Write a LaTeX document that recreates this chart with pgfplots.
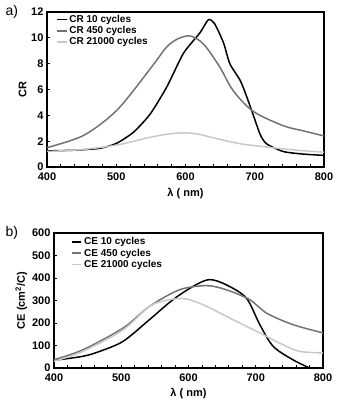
\documentclass[border=0pt]{standalone}
\usepackage{pgfplots}
\pgfplotsset{compat=1.18}
\usepackage{fontspec}
\setmainfont{Liberation Sans}
\setsansfont{Liberation Sans}
\definecolor{cmid}{RGB}{115,115,115}
\definecolor{clight}{RGB}{200,200,200}
\pgfplotsset{
  common/.style={
    scale only axis,
    xmin=400, xmax=800,
    xtick={400,500,...,800},
    minor xtick={400,420,...,800},
    tick align=inside,
    xtick pos=bottom, ytick pos=left,
    major tick length=3pt, minor tick length=3pt,
    every tick/.style={black, line width=0.8pt},
    axis line style={line width=1.2pt},
    /pgf/number format/assume math mode=true,
    /pgf/number format/1000 sep={},
    xticklabel={\pgfmathprintnumber{\tick}},
    yticklabel={\pgfmathprintnumber{\tick}},
    tick label style={font=\fontsize{11}{12}\selectfont\bfseries},
    xticklabel style={yshift=-2.5pt},
    label style={font=\fontsize{11}{12}\selectfont\bfseries},
    legend style={draw=none, fill=none, font=\fontsize{10}{11}\selectfont\bfseries,
      row sep=-1.5pt, inner sep=1pt},
    legend cell align=left,
    legend image post style={xscale=0.55},
    xlabel={λ ( nm)},
  }
}
\begin{document}
\begin{tikzpicture}
\useasboundingbox (0,0) rectangle (338pt,407pt);
\begin{axis}[common,
  at={(47pt,240pt)}, anchor=south west,
  width=277pt, height=155pt,
  ymin=0, ymax=12, ytick={0,2,...,12},
  ylabel={CR}, ylabel style={yshift=-2pt},
  xlabel style={yshift=-1pt},
  legend style={at={(0.03,1.0)}, anchor=north west},
]
\addplot[black, line width=1.5pt, smooth, tension=0.4] coordinates {
(400,1.25) (440,1.3) (477,1.45) (501,1.85) (525,2.7) (549,4.1) (573,6.2) (597,8.8) (621,10.4) (633,11.4) (642,11.1) (655,9.6) (664,8.0) (679,6.7) (688,5.5) (698,4.0) (708,2.5) (717,1.8) (741,1.2) (770,1.0) (800,0.9)};
\addlegendentry{CR 10 cycles}
\addplot[cmid, line width=1.5pt, smooth] coordinates {
(400,1.5) (453,2.45) (501,4.4) (549,7.6) (573,9.3) (590,9.95) (606,10.15) (620,9.8) (631,9.2) (650,7.7) (669,5.9) (698,4.3) (741,3.2) (770,2.8) (800,2.4)};
\addlegendentry{CR 450 cycles}
\addplot[clight, line width=1.5pt, smooth] coordinates {
(400,1.2) (450,1.35) (501,1.7) (549,2.3) (583,2.6) (612,2.6) (645,2.2) (679,1.8) (717,1.55) (760,1.3) (800,1.15)};
\addlegendentry{CR 21000 cycles}
\end{axis}
\node[font=\fontsize{14}{16}\selectfont, anchor=north west] at (2pt,405pt) {a)};
\begin{axis}[common,
  at={(54pt,39pt)}, anchor=south west,
  width=269pt, height=135pt,
  ymin=0, ymax=600, ytick={0,100,...,600},
  ylabel={CE (cm\textsuperscript{2}/C)}, ylabel style={yshift=-2pt},
  xlabel style={yshift=0pt},
  legend style={at={(0.06,0.99)}, anchor=north west},
]
\addplot[black, line width=1.5pt, smooth] coordinates {
(400,34) (443,52) (468,74) (503,119) (542,215) (577,304) (607,363) (631,393) (656,370) (686,311) (706,193) (726,96) (755,37) (780,0)};
\addlegendentry{CE 10 cycles}
\addplot[cmid, line width=1.5pt, smooth] coordinates {
(400,37) (443,81) (503,178) (542,274) (587,348) (627,366) (656,348) (691,304) (716,244) (755,193) (800,156)};
\addlegendentry{CE 450 cycles}
\addplot[clight, line width=1.5pt, smooth] coordinates {
(400,30) (443,74) (503,170) (542,274) (572,304) (597,307) (627,274) (666,215) (706,156) (740,104) (765,74) (800,67)};
\addlegendentry{CE 21000 cycles}
\end{axis}
\node[font=\fontsize{14}{16}\selectfont, anchor=north west] at (2pt,184pt) {b)};
\end{tikzpicture}
\end{document}
